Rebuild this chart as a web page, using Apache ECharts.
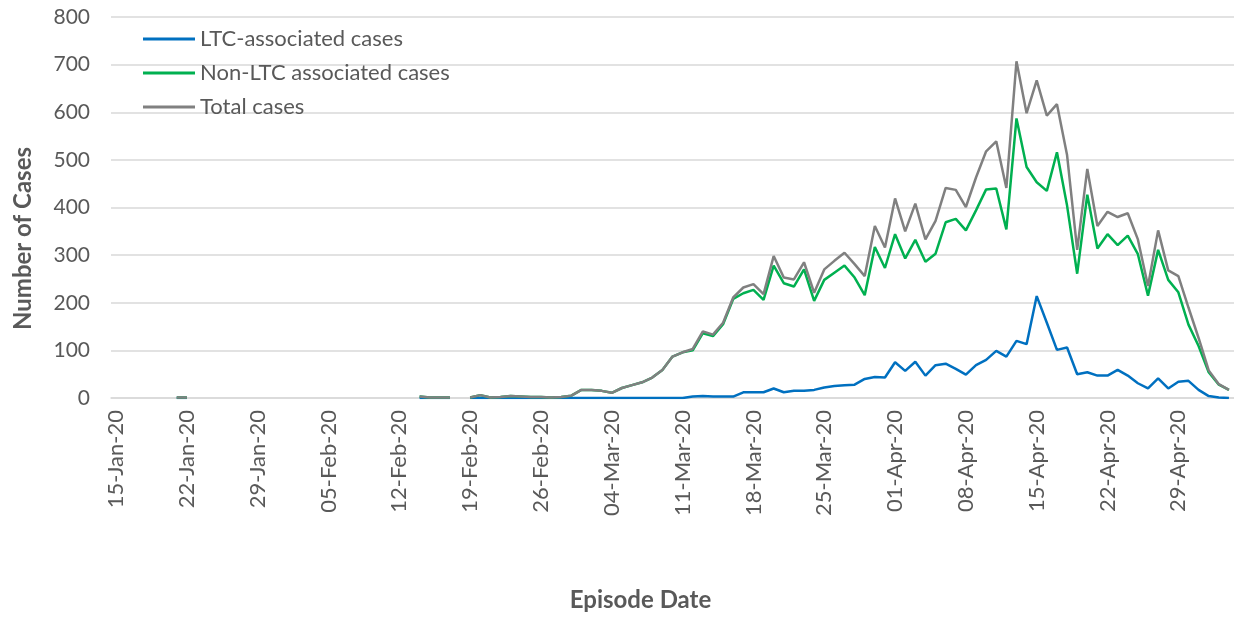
<!DOCTYPE html>
<html>
<head>
<meta charset="utf-8">
<script src="https://cdn.jsdelivr.net/npm/echarts@6/dist/echarts.min.js"></script>
<style>
html,body{margin:0;padding:0;background:#fff;}
#c{width:1234px;height:617px;}
</style>
</head>
<body>
<div id="c"></div>
<script>
// Categories: daily episode dates from 15-Jan-20 to 04-May-20
const startDate = [2020, 0, 15];
const dayCount = 111;
const monthNames = ['Jan','Feb','Mar','Apr','May','Jun','Jul','Aug','Sep','Oct','Nov','Dec'];
const categories = [];
for (let i = 0; i < dayCount; i++) {
  const d = new Date(Date.UTC(startDate[0], startDate[1], startDate[2] + i));
  const dd = String(d.getUTCDate()).padStart(2, '0');
  categories.push(dd + '-' + monthNames[d.getUTCMonth()] + '-' + String(d.getUTCFullYear()).slice(2));
}

const seriesNames = ['LTC-associated cases', 'Non-LTC associated cases', 'Total cases'];

const ltcCases = [
  null,null,null,null,null,null,0,0,null,null,
  null,null,null,null,null,null,null,null,null,null,
  null,null,null,null,null,null,null,null,null,null,
  0,0,0,0,null,0,0,0,0,0,
  0,0,0,0,0,0,0,0,0,0,
  0,0,0,0,0,0,0,3,4,3,
  3,3,12,12,12,20,12,15,15,17,
  22,25,27,28,40,44,43,75,57,76,
  47,69,72,61,49,69,80,99,87,120,
  113,214,158,101,106,50,54,47,47,59,
  47,31,20,41,20,34,36,17,4,1,
  0
];

const nonLtcCases = [
  null,null,null,null,null,null,1,1,null,null,
  null,null,null,null,null,null,null,null,null,null,
  null,null,null,null,null,null,null,null,null,null,
  3,1,1,1,null,1,6,1,2,4,
  3,2,2,1,2,5,17,17,15,11,
  21,27,33,43,59,87,96,100,136,130,
  155,208,220,227,206,278,241,234,270,204,
  248,263,278,253,216,317,273,344,293,332,
  286,303,369,376,352,394,438,440,354,587,
  485,453,435,516,404,261,427,314,344,321,
  341,302,215,311,248,222,154,109,54,28,
  17
];

const totalCases = [
  null,null,null,null,null,null,1,1,null,null,
  null,null,null,null,null,null,null,null,null,null,
  null,null,null,null,null,null,null,null,null,null,
  3,1,1,1,null,1,6,1,2,4,
  3,2,2,1,2,5,17,17,15,11,
  21,27,33,43,59,87,96,103,140,133,
  158,211,232,239,218,298,253,249,285,221,
  270,288,305,281,256,361,316,419,350,408,
  333,372,441,437,401,463,518,539,441,707,
  598,667,593,617,510,311,481,361,391,380,
  388,333,235,352,268,256,190,126,58,29,
  17
];

const colors = ['#0070C0', '#00B050', '#808080'];
const textColor = '#595959';
const gridColor = '#d9d9d9';
const fontFamily = 'Lato, Roboto, sans-serif';

const chart = echarts.init(document.getElementById('c'), null, {renderer: 'canvas'});

function lineSeries(name, data, color) {
  return {
    name: name,
    type: 'line',
    data: data,
    symbol: 'none',
    connectNulls: false,
    lineStyle: {color: color, width: 2.5},
    itemStyle: {color: color}
  };
}

chart.setOption({
  animation: false,
  backgroundColor: '#ffffff',
  textStyle: {fontFamily: fontFamily},
  grid: {left: 111, top: 17, width: 1125, height: 382, containLabel: false},
  legend: {
    orient: 'vertical',
    left: 138,
    top: 22,
    icon: 'rect',
    itemWidth: 52,
    itemHeight: 3,
    itemGap: 10,
    data: seriesNames,
    textStyle: {color: textColor, fontSize: 22, lineHeight: 24, fontFamily: fontFamily}
  },
  xAxis: {
    type: 'category',
    data: categories,
    boundaryGap: true,
    axisLine: {lineStyle: {color: gridColor, width: 1.5}},
    axisTick: {interval: 6, length: 6, lineStyle: {color: gridColor, width: 1.5}},
    axisLabel: {interval: 6, rotate: 90, color: textColor, fontSize: 22, margin: 12, fontFamily: fontFamily},
    splitLine: {show: false},
    name: 'Episode Date',
    nameLocation: 'middle',
    nameGap: 190,
    nameTextStyle: {color: textColor, fontSize: 24, fontWeight: 'bold', fontFamily: fontFamily, padding: [0, 64, 0, 0]}
  },
  yAxis: {
    type: 'value',
    min: 0,
    max: 800,
    interval: 100,
    axisLine: {show: false},
    axisTick: {show: false},
    axisLabel: {color: textColor, fontSize: 21, margin: 21, fontFamily: fontFamily},
    splitLine: {lineStyle: {color: gridColor, width: 1.5}},
    name: 'Number of Cases',
    nameLocation: 'middle',
    nameGap: 76,
    nameTextStyle: {color: textColor, fontSize: 24, fontWeight: 'bold', fontFamily: fontFamily, padding: [0, 62, 0, 0]}
  },
  series: [
    lineSeries(seriesNames[0], ltcCases, colors[0]),
    lineSeries(seriesNames[1], nonLtcCases, colors[1]),
    lineSeries(seriesNames[2], totalCases, colors[2])
  ]
});
</script>
</body>
</html>
